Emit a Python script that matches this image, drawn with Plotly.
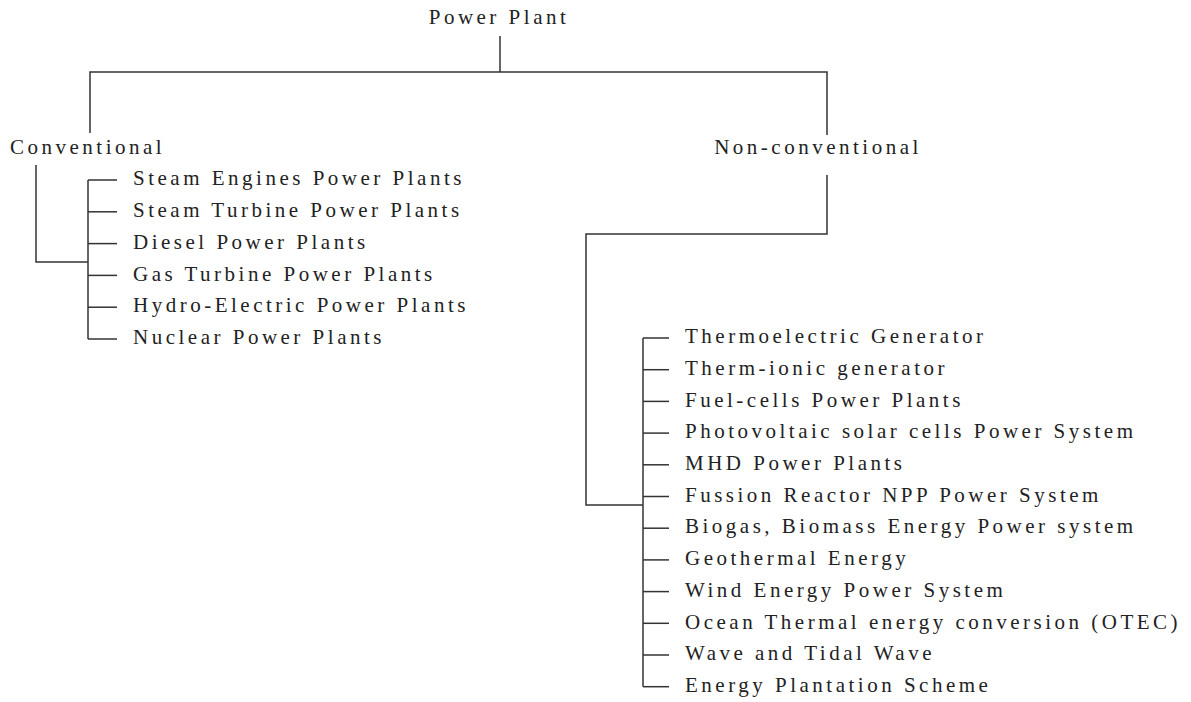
import plotly.graph_objects as go

# ---------------- data ----------------
root_label = "Power Plant"
category_labels = ["Conventional", "Non-conventional"]
conventional_items = [
    "Steam Engines Power Plants",
    "Steam Turbine Power Plants",
    "Diesel Power Plants",
    "Gas Turbine Power Plants",
    "Hydro-Electric Power Plants",
    "Nuclear Power Plants",
]
nonconventional_items = [
    "Thermoelectric Generator",
    "Therm-ionic generator",
    "Fuel-cells Power Plants",
    "Photovoltaic solar cells Power System",
    "MHD Power Plants",
    "Fussion Reactor NPP Power System",
    "Biogas, Biomass Energy Power system",
    "Geothermal Energy",
    "Wind Energy Power System",
    "Ocean Thermal energy conversion (OTEC)",
    "Wave and Tidal Wave",
    "Energy Plantation Scheme",
]

# ---------------- layout constants (pixels) ----------------
W, H = 1191, 702
LINE = dict(color="#333333", width=1.5)
FONT = dict(family="Liberation Serif, Times New Roman, serif", size=21, color="#222222")

root_x, root_y = 499, 19
top_bar_y = 72
conv_x, conv_drop_end = 90, 133
nonc_x, nonc_drop_end = 827, 135

conv_label_x, conv_label_y = 10, 149
nonc_label_x, nonc_label_y = 818, 149

conv_stem_x, conv_stem_top, conv_join_y = 36, 165, 262
conv_list_x, conv_tick_len, conv_text_x = 88, 29, 133
conv_y0, conv_step = 180, 31.8

nonc_stem_top, nonc_bend_y, nonc_bend_x, nonc_join_y = 175, 234, 586, 505
nonc_list_x, nonc_tick_len, nonc_text_x = 643, 26, 685
nonc_y0, nonc_step = 338, 31.7

conv_ys = [conv_y0 + i * conv_step for i in range(len(conventional_items))]
nonc_ys = [nonc_y0 + i * nonc_step for i in range(len(nonconventional_items))]

fig = go.Figure()


def seg(xs, ys):
    fig.add_trace(go.Scatter(x=xs, y=ys, mode="lines", line=LINE,
                             hoverinfo="skip", showlegend=False))


# root connectors
seg([root_x + 1, root_x + 1], [36, top_bar_y])
seg([conv_x, conv_x, nonc_x, nonc_x], [conv_drop_end, top_bar_y, top_bar_y, nonc_drop_end])

# conventional branch
seg([conv_stem_x, conv_stem_x, conv_list_x], [conv_stem_top, conv_join_y, conv_join_y])
seg([conv_list_x, conv_list_x], [conv_ys[0], conv_ys[-1]])
for y in conv_ys:
    seg([conv_list_x, conv_list_x + conv_tick_len], [y, y])

# non-conventional branch
seg([nonc_x, nonc_x, nonc_bend_x, nonc_bend_x, nonc_list_x],
    [nonc_stem_top, nonc_bend_y, nonc_bend_y, nonc_join_y, nonc_join_y])
seg([nonc_list_x, nonc_list_x], [nonc_ys[0], nonc_ys[-1]])
for y in nonc_ys:
    seg([nonc_list_x, nonc_list_x + nonc_tick_len], [y, y])


def txt(xs, ys, labels, pos):
    fig.add_trace(go.Scatter(x=xs, y=ys, mode="text", text=labels,
                             textposition=pos, textfont=FONT,
                             hoverinfo="skip", showlegend=False))


txt([root_x], [root_y], [root_label], "middle center")
txt([conv_label_x], [conv_label_y], [category_labels[0]], "middle right")
txt([nonc_label_x], [nonc_label_y], [category_labels[1]], "middle center")
txt([conv_text_x] * len(conventional_items), conv_ys, conventional_items, "middle right")
txt([nonc_text_x] * len(nonconventional_items), nonc_ys, nonconventional_items, "middle right")

fig.update_layout(
    width=W, height=H,
    margin=dict(l=0, r=0, t=0, b=0),
    paper_bgcolor="white", plot_bgcolor="white",
    xaxis=dict(range=[0, W], visible=False, fixedrange=True),
    yaxis=dict(range=[H, 0], visible=False, fixedrange=True),
    showlegend=False,
)

post = """
(function(){
  document.body.style.margin = '0';
  document.body.style.overflow = 'hidden';
  var gd = document.getElementById('{plot_id}');
  function sp(){
    gd.querySelectorAll('.textpoint text').forEach(function(t){
      t.style.letterSpacing = '3.5px';
    });
  }
  sp();
  if (gd.on) { gd.on('plotly_afterplot', sp); }
})();
"""

fig.write_html("out.html", config={"displayModeBar": False, "staticPlot": True},
               post_script=post)
